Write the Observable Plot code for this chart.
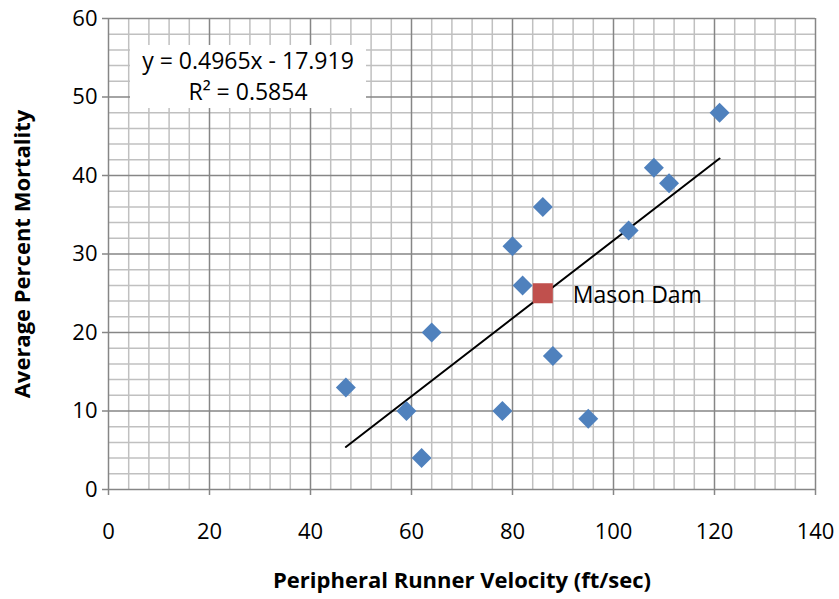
<!DOCTYPE html>
<html>
<head>
<meta charset="utf-8">
<script src="https://cdn.jsdelivr.net/npm/d3@7"></script>
<script src="https://cdn.jsdelivr.net/npm/@observablehq/plot@0.6"></script>
<style>
  html, body { margin: 0; padding: 0; background: #fff; }
  #wrap { position: relative; width: 839px; height: 599px; font-family: "Open Sans", sans-serif; }
  #eq { position: absolute; left: 130px; top: 45px; width: 236px; height: 63px; background: #fff;
        text-align: center; font-size: 23px; line-height: 31px; color: #000; padding-top: 0px; }
</style>
</head>
<body>
<div id="wrap">
  <div id="chart"></div>
  <div id="eq">y = 0.4965x - 17.919<br>R² = 0.5854</div>
</div>
<script>
// Data: peripheral runner velocity (ft/sec) vs average percent mortality
const velocity = [47, 59, 62, 64, 78, 80, 82, 86, 88, 95, 103, 108, 111, 121];
const mortality = [13, 10, 4, 20, 10, 31, 26, 36, 17, 9, 33, 41, 39, 48];
const masonVelocity = [86];
const masonMortality = [25];
const masonLabel = ["Mason Dam"];
const slope = 0.4965;
const intercept = -17.919;
const xTicks = [0, 20, 40, 60, 80, 100, 120, 140];
const yTicks = [0, 10, 20, 30, 40, 50, 60];

const points = velocity.map((v, i) => ({x: v, y: mortality[i]}));
const mason = masonVelocity.map((v, i) => ({x: v, y: masonMortality[i], label: masonLabel[i]}));
const [xmin, xmax] = d3.extent(velocity);
const trend = [xmin, xmax].map(x => ({x, y: slope * x + intercept}));

const xMinor = d3.range(0, 141, 4).filter(v => v % 20 !== 0);
const yMinor = d3.range(0, 61, 2).filter(v => v % 10 !== 0);

const major = "#868686", minor = "#c0c0c0";
const font = "Open Sans, sans-serif";

const chart = Plot.plot({
  width: 839,
  height: 599,
  marginLeft: 108,
  marginRight: 24,
  marginTop: 18,
  marginBottom: 110,
  style: {fontFamily: font, fontSize: "22px", color: "#000", background: "#fff"},
  x: {domain: [0, 140]},
  y: {domain: [0, 60]},
  marks: [
    Plot.ruleX(xMinor, {stroke: minor, strokeWidth: 1.5}),
    Plot.ruleY(yMinor, {stroke: minor, strokeWidth: 1.5}),
    Plot.ruleX(xTicks, {stroke: major, strokeWidth: 1.5}),
    Plot.ruleY(yTicks, {stroke: major, strokeWidth: 1.5}),
    Plot.axisX({ticks: xTicks, tickSize: 6, tickPadding: 28, stroke: major, strokeWidth: 1.5, label: null, fontSize: 22}),
    Plot.axisY({ticks: yTicks, tickSize: 6, tickPadding: 5, stroke: major, strokeWidth: 1.5, label: null, fontSize: 22}),
    Plot.line(trend, {x: "x", y: "y", stroke: "#000", strokeWidth: 2}),
    Plot.dot(points, {x: "x", y: "y", symbol: "diamond2", r: 9, fill: "#4F81BD", stroke: "none"}),
    Plot.dot(mason, {x: "x", y: "y", symbol: "square", r: 11.3, fill: "#C0504D", stroke: "none"}),
    Plot.text(mason, {x: "x", y: "y", text: "label", textAnchor: "start", dx: 30, dy: 2, fontSize: 23, fill: "#000"}),
    Plot.text(["Peripheral Runner Velocity (ft/sec)"], {frameAnchor: "bottom", dy: 91, textAnchor: "middle", lineAnchor: "middle", fontWeight: "bold", fontSize: 22, fill: "#000"}),
    Plot.text(["Average Percent Mortality"], {frameAnchor: "left", dx: -86, rotate: -90, textAnchor: "middle", lineAnchor: "middle", fontWeight: "bold", fontSize: 22, fill: "#000"})
  ]
});
document.getElementById("chart").appendChild(chart);
</script>
</body>
</html>
